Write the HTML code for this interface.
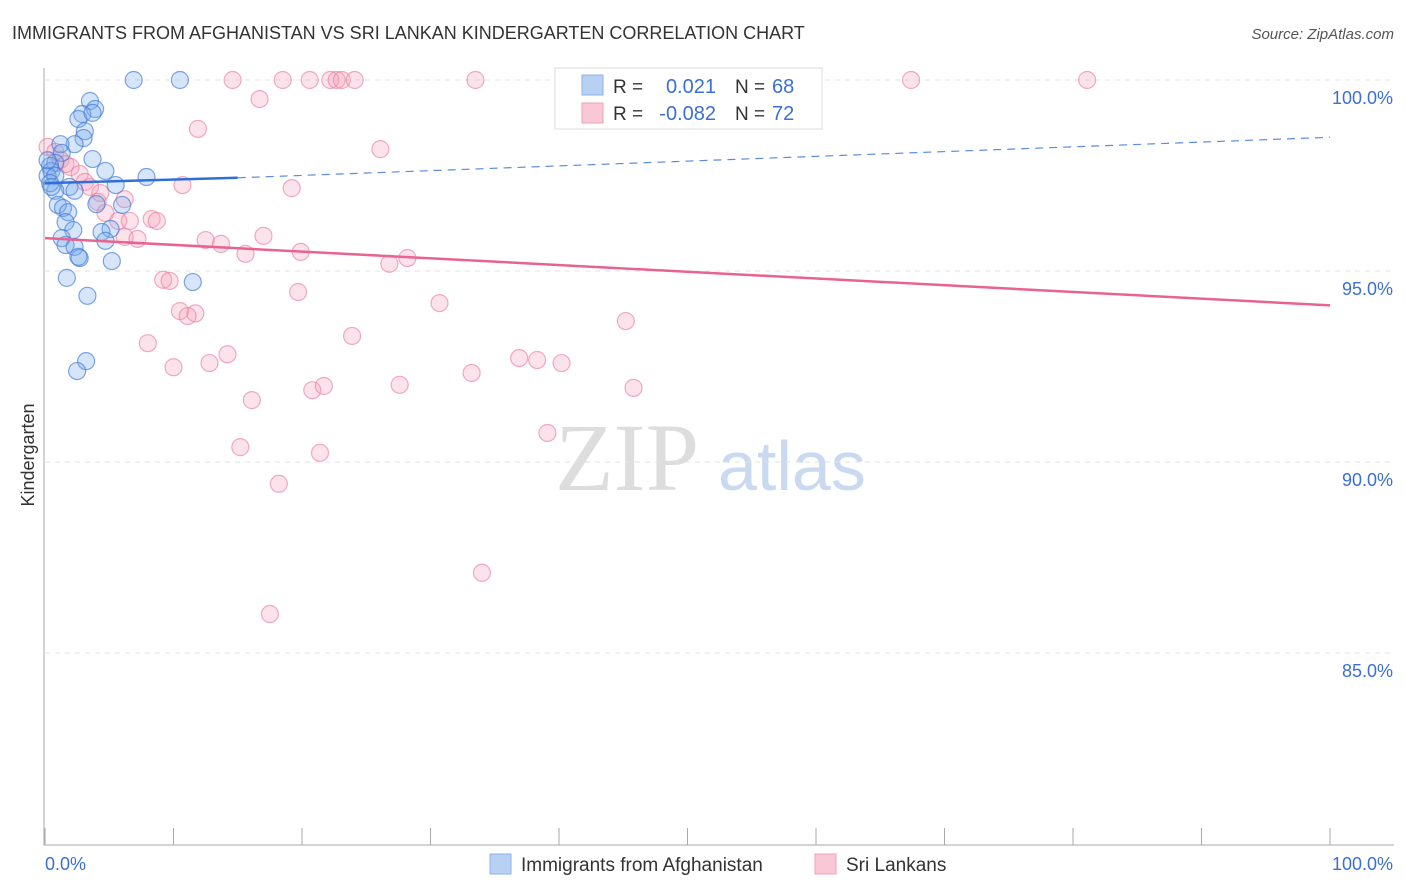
<!DOCTYPE html>
<html><head><meta charset="utf-8"><style>
body{margin:0;background:#fff;font-family:"Liberation Sans",sans-serif;}
svg{display:block}
</style></head><body>
<svg id="chart" width="1406" height="892">
<text x="12" y="39" font-size="18" fill="#333">IMMIGRANTS FROM AFGHANISTAN VS SRI LANKAN KINDERGARTEN CORRELATION CHART</text>
<text x="1394" y="39" font-size="15" fill="#555" font-style="italic" text-anchor="end">Source: ZipAtlas.com</text>
<text x="555" y="490" font-size="96" fill="#ddd" font-family="Liberation Serif,serif">ZIP</text>
<text x="718" y="490" font-size="70" fill="#c9daf0">atlas</text>
<text x="34" y="455" font-size="18" fill="#333" transform="rotate(-90 34 455)" text-anchor="middle">Kindergarten</text>
<g id="grid"></g><g id="pts"></g><g id="lines"></g>
<g>
<rect x="555" y="68" width="267" height="61" fill="#fff" stroke="#ddd"/>
<rect x="582" y="75" width="21" height="20" fill="#b8d1f3" stroke="#8ab1ea"/>
<rect x="582" y="103" width="21" height="20" fill="#f9c7d6" stroke="#f0a0b8"/>
<text x="613" y="93" font-size="19" fill="#333">R = </text><text x="716" y="93" font-size="20" fill="#3b6fd4" text-anchor="end">0.021</text>
<text x="735" y="93" font-size="19" fill="#333">N = </text><text x="772" y="93" font-size="20" fill="#3b6fd4">68</text>
<text x="613" y="120" font-size="19" fill="#333">R = </text><text x="716" y="120" font-size="20" fill="#3b6fd4" text-anchor="end">-0.082</text>
<text x="735" y="120" font-size="19" fill="#333">N = </text><text x="772" y="120" font-size="20" fill="#3b6fd4">72</text>
</g>
<g>
<rect x="490" y="854" width="21" height="20" fill="#b8d1f3" stroke="#8ab1ea"/>
<text x="521" y="871" font-size="19" fill="#333">Immigrants from Afghanistan</text>
<rect x="815" y="854" width="21" height="20" fill="#f9c7d6" stroke="#f0a0b8"/>
<text x="846" y="871" font-size="19" fill="#333">Sri Lankans</text>
</g>
</svg>
<script>
const yTicks=[100,95,90,85];
const xTickLabels=["0.0%","100.0%"];
const blueX=[6.9,10.5,3.5,3.9,2.9,2.6,3.7,3.1,3.0,2.3,1.2,1.3,3.7,0.8,0.4,0.5,0.2,0.8,4.7,7.9,5.5,1.9,2.3,0.8,6.0,4.0,1.0,1.4,1.8,1.6,5.1,2.2,4.4,1.3,4.7,1.6,2.3,2.7,2.6,5.2,1.7,11.5,3.3,3.2,2.5,0.4,0.5,0.2];
const blueY=[100,100,99.45,99.24,99.11,98.98,99.14,98.66,98.48,98.32,98.32,98.09,97.93,97.83,97.75,97.62,97.49,97.49,97.62,97.46,97.25,97.2,97.1,97.1,96.73,96.75,96.73,96.65,96.54,96.28,96.1,96.07,96.02,95.86,95.79,95.68,95.63,95.34,95.37,95.26,94.82,94.71,94.35,92.64,92.38,97.3,97.2,97.9];
const pinkX=[14.6,18.5,20.6,22.2,22.7,23.1,24.1,33.5,41.6,67.4,81.1,16.7,11.9,26.1,0.2,0.8,1.2,1.6,2.0,2.7,3.1,3.5,10.7,19.2,4.3,6.2,4.1,4.7,5.7,6.6,8.3,8.7,6.2,7.2,12.5,13.7,17.0,15.6,19.9,28.2,26.8,9.2,9.7,19.7,30.7,10.5,11.7,11.1,45.2,23.9,8.0,14.2,10.0,12.8,36.9,38.3,40.2,33.2,20.8,21.7,27.6,45.8,16.1,39.1,15.2,21.4,18.2,34.0,17.5];
const pinkY=[100,100,100,100,100,100,100,100,100,100,100,99.5,98.72,98.19,98.25,98.12,97.91,97.8,97.72,97.54,97.33,97.2,97.25,97.17,97.04,96.88,96.81,96.52,96.31,96.31,96.36,96.31,95.89,95.84,95.81,95.71,95.92,95.45,95.5,95.34,95.19,94.77,94.74,94.45,94.16,93.95,93.89,93.82,93.69,93.3,93.11,92.82,92.48,92.59,92.72,92.67,92.59,92.33,91.88,91.99,92.02,91.94,91.62,90.76,90.39,90.24,89.43,87.1,86.02];
const blueLine=[97.3,97.44,98.5];const blueLineX=[0,15,100];
const pinkLine=[95.86,94.1];
const NS="http://www.w3.org/2000/svg";
const xs=v=>45+v/100*1285, ys=v=>80+(100-v)*38.2;
function mk(t,a,p){const e=document.createElementNS(NS,t);for(const k in a)e.setAttribute(k,a[k]);p.appendChild(e);return e;}
const grid=document.getElementById('grid'),pts=document.getElementById('pts'),lines=document.getElementById('lines');
yTicks.forEach(v=>{
 const l=mk('line',{x1:45,x2:1394,y1:ys(v),y2:ys(v),stroke:'#e2e2e2','stroke-dasharray':'5,5'},grid);
 
 
 const t=mk('text',{x:1393,y:ys(v)+24,'font-size':18,fill:'#3b6fd4','text-anchor':'end'},grid);
 t.textContent=v.toFixed(1)+'%';
 
 
});
mk('line',{x1:44,x2:44,y1:68,y2:845,stroke:'#aaa'},grid);
mk('line',{x1:44,x2:1394,y1:845,y2:845,stroke:'#aaa'},grid);
for(let i=0;i<=10;i++){mk('line',{x1:xs(i*10),x2:xs(i*10),y1:828,y2:845,stroke:'#aaa'},grid);}
const xl0=mk('text',{x:45,y:870,'font-size':18,fill:'#3b6fd4'},grid);xl0.textContent=xTickLabels[0];


const xl1=mk('text',{x:1393,y:870,'font-size':18,fill:'#3b6fd4','text-anchor':'end'},grid);xl1.textContent=xTickLabels[1];


pinkX.forEach((x,i)=>{const c=mk('circle',{cx:xs(x),cy:ys(pinkY[i]),r:8.5,fill:'rgba(244,160,186,0.3)',stroke:'rgba(232,120,155,0.6)','stroke-width':1.2},pts);
 
 });
blueX.forEach((x,i)=>{const c=mk('circle',{cx:xs(x),cy:ys(blueY[i]),r:8.5,fill:'rgba(120,170,235,0.3)',stroke:'rgba(60,120,215,0.65)','stroke-width':1.2},pts);
 
 });
const b1=mk('line',{x1:xs(blueLineX[0]),y1:ys(blueLine[0]),x2:xs(blueLineX[1]),y2:ys(blueLine[1]),stroke:'#2f6fd6','stroke-width':2.5},lines);


const b2=mk('line',{x1:xs(blueLineX[1]),y1:ys(blueLine[1]),x2:xs(blueLineX[2]),y2:ys(blueLine[2]),stroke:'#5b8de0','stroke-width':1.2,'stroke-dasharray':'8,6'},lines);


const p1=mk('line',{x1:xs(0),y1:ys(pinkLine[0]),x2:xs(100),y2:ys(pinkLine[1]),stroke:'#e8638f','stroke-width':2.5},lines);


</script>
</body></html>
